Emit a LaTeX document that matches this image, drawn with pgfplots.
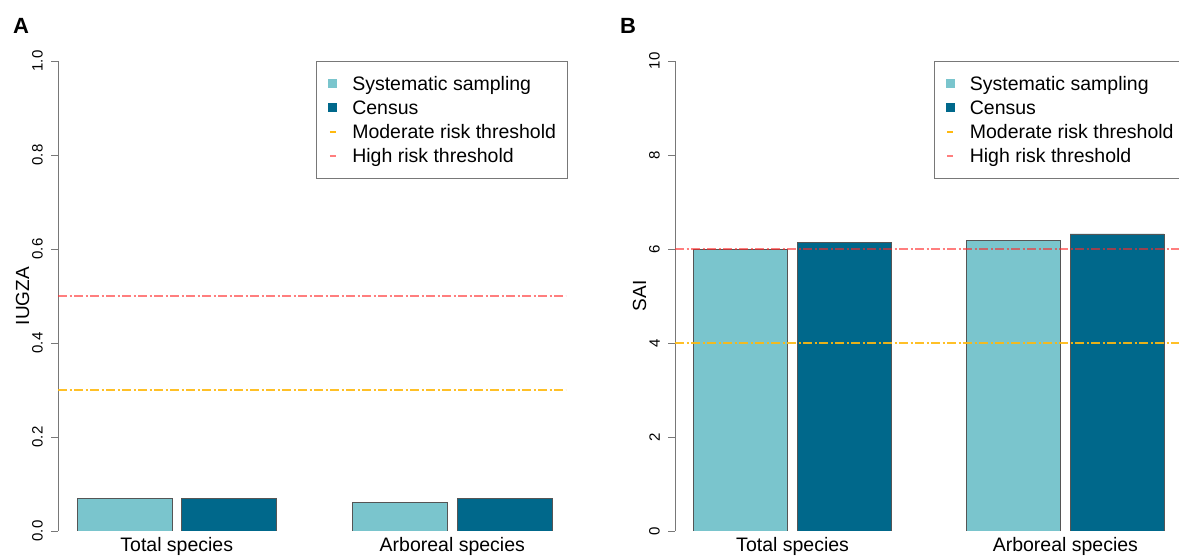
\documentclass[border=0pt]{standalone}
\usepackage{fontspec}
\setmainfont{Liberation Sans}
\usepackage{pgfplots}
\pgfplotsset{compat=1.18}
\definecolor{lightc}{RGB}{122,197,205}
\definecolor{darkc}{RGB}{0,104,139}
\definecolor{modc}{RGB}{255,185,15}
\definecolor{highc}{RGB}{255,40,40}
\definecolor{edgec}{RGB}{85,85,85}
\definecolor{axc}{RGB}{120,120,120}

\pgfplotsset{
 panel/.style={
  scale only axis, width=508pt, height=470pt,
  ymin=0,
  axis y line*=left, axis x line*=bottom,
  x axis line style={draw=none},
  y axis line style={draw=axc, line width=0.9pt, -},
  xtick={1.05,3.95}, xticklabels={Total species, Arboreal species},
  xtick style={draw=none},
  ytick style={draw=axc, line width=0.9pt},
  tick align=outside, major tick length=7pt,
  xticklabel style={font=\fontsize{19.5}{22}\selectfont, anchor=base, yshift=-14pt, inner sep=0pt},
  yticklabel style={font=\fontsize{15}{17}\selectfont, rotate=90, anchor=south, inner sep=0pt, yshift=8pt},
  /pgf/number format/assume math mode=true,
  every axis y label/.style={at={(axis description cs:0,0.5)}, rotate=90, anchor=center, yshift=35.5pt, font=\fontsize{19}{22}\selectfont},
  legend cell align=left,
  legend style={draw=axc, line width=0.9pt, fill=white, inner xsep=11.5pt, inner ysep=13.5pt,
     column sep=15pt, row sep=6pt, font=\fontsize{19.5}{22}\selectfont,
     nodes={inner sep=0pt, text height=16pt, text depth=2pt}, cells={anchor=west}},
  barS/.style={ybar, bar width=1, bar shift=0pt, fill=lightc, draw=edgec, line width=0.9pt, forget plot},
  barC/.style={ybar, bar width=1, bar shift=0pt, fill=darkc, draw=edgec, line width=0.9pt, forget plot},
  modline/.style={modc, opacity=0.9, line width=1.3pt, dash pattern=on 9pt off 2.5pt on 2pt off 2.5pt, forget plot},
  highline/.style={highc, opacity=0.6, line width=1.3pt, dash pattern=on 9pt off 2.5pt on 2pt off 2.5pt, forget plot},
 }
}

\begin{document}
\begin{tikzpicture}
% ---------------- Panel A ----------------
\begin{axis}[panel, at={(58pt,25pt)}, anchor=south west,
  xmin=-0.2, xmax=5.147, ymax=1,
  ytick={0,0.2,0.4,0.6,0.8,1.0},
  yticklabel style={/pgf/number format/.cd, fixed, fixed zerofill, precision=1},
  ylabel={IUGZA},
  legend style={at={(1,1)}, anchor=north east, xshift=2pt}]
\addplot[barS] coordinates {(0.5,0.07) (3.4,0.06)};
\addplot[barC] coordinates {(1.6,0.07) (4.5,0.07)};
\addplot[modline] coordinates {(-0.2,0.3) (5.147,0.3)};
\addplot[highline] coordinates {(-0.2,0.5) (5.147,0.5)};
\addlegendimage{legend image code/.code={\fill[lightc] (0pt,-4pt) rectangle (8pt,4pt);}}
\addlegendentry{Systematic sampling}
\addlegendimage{legend image code/.code={\fill[darkc] (0pt,-4pt) rectangle (8pt,4pt);}}
\addlegendentry{Census}
\addlegendimage{legend image code/.code={\draw[modc, line width=1.2pt] (1pt,0pt) -- (7pt,0pt);}}
\addlegendentry{Moderate risk threshold}
\addlegendimage{legend image code/.code={\draw[highc, opacity=0.6, line width=1.2pt] (1pt,0pt) -- (7pt,0pt);}}
\addlegendentry{High risk threshold}
\end{axis}
% ---------------- Panel B ----------------
\begin{axis}[panel, at={(675pt,25pt)}, anchor=south west,
  xmin=-0.2, xmax=5.2, ymax=10,
  ytick={0,2,4,6,8,10},
  ylabel={SAI},
  legend style={at={(0.5098,1)}, anchor=north west}]
\addplot[barS] coordinates {(0.5,5.98) (3.4,6.18)};
\addplot[barC] coordinates {(1.6,6.13) (4.5,6.32)};
\addplot[modline] coordinates {(-0.2,4) (5.2,4)};
\addplot[highline] coordinates {(-0.2,6) (5.2,6)};
\addlegendimage{legend image code/.code={\fill[lightc] (0pt,-4pt) rectangle (8pt,4pt);}}
\addlegendentry{Systematic sampling}
\addlegendimage{legend image code/.code={\fill[darkc] (0pt,-4pt) rectangle (8pt,4pt);}}
\addlegendentry{Census}
\addlegendimage{legend image code/.code={\draw[modc, line width=1.2pt] (1pt,0pt) -- (7pt,0pt);}}
\addlegendentry{Moderate risk threshold}
\addlegendimage{legend image code/.code={\draw[highc, opacity=0.6, line width=1.2pt] (1pt,0pt) -- (7pt,0pt);}}
\addlegendentry{High risk threshold}
\end{axis}
\node[anchor=base west, inner sep=0pt, font=\bfseries\fontsize{22}{26}\selectfont] at (13pt,522pt) {A};
\node[anchor=base west, inner sep=0pt, font=\bfseries\fontsize{22}{26}\selectfont] at (620pt,522pt) {B};
\pgfresetboundingbox
\useasboundingbox (0pt,0pt) rectangle (1179pt,556pt);
\end{tikzpicture}
\end{document}
